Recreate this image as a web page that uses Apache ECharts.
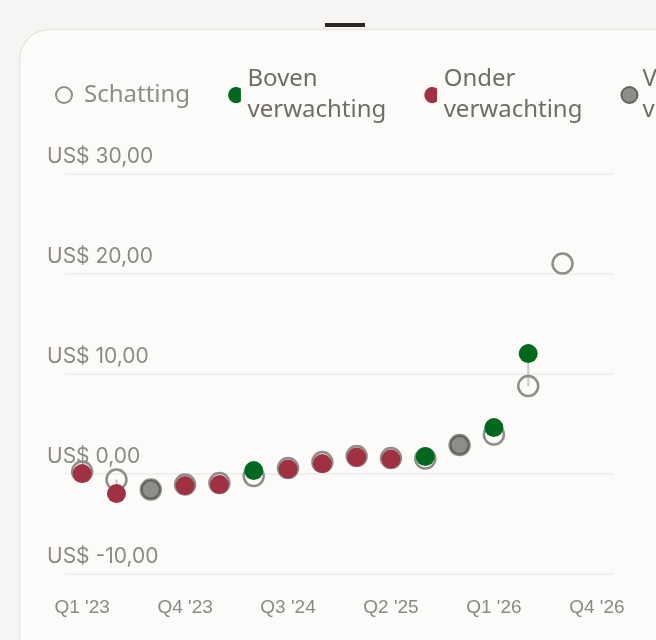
<!DOCTYPE html>
<html>
<head>
<meta charset="utf-8">
<script src="https://cdn.jsdelivr.net/npm/echarts@6/dist/echarts.min.js"></script>
<style>html,body{margin:0;padding:0;background:#f6f5f3;}#c{width:656px;height:640px;}</style>
</head>
<body>
<div id="c"></div>
<script>
const categories = ["Q1 '23","Q2 '23","Q3 '23","Q4 '23","Q1 '24","Q2 '24","Q3 '24","Q4 '24","Q1 '25","Q2 '25","Q3 '25","Q4 '25","Q1 '26","Q2 '26","Q3 '26","Q4 '26"];
const estimates = [0.2, -0.6, -1.6, -1.1, -0.95, -0.25, 0.55, 1.15, 1.75, 1.55, 1.5, 2.85, 3.9, 8.75, 21.0, null];
const actuals   = [0.0, -2.0, -1.6, -1.2, -1.1, 0.3, 0.45, 1.0, 1.65, 1.45, 1.7, 2.85, 4.6, 12.0, null, null];
const outcomes  = ['below','below','meets','below','below','above','below','below','below','below','above','meets','above','above',null,null];
const yTicks = [-10, 0, 10, 20, 30];
const legendNames = ['Schatting', 'Boven\nverwachting', 'Onder\nverwachting', 'Volgens\nverwachting'];

const pick = (k) => actuals.map((v, i) => outcomes[i] === k ? v : null);
const pairs = estimates.map((e, i) => [i, e, actuals[i]]).filter(p => p[1] != null && p[2] != null);

const halfDot = 'path://M12,2A7.5,7.5,0,1,0,12,14Z';

const chart = echarts.init(document.getElementById('c'), null, {renderer: 'canvas'});
const legendFont = '"Noto Sans", sans-serif';
chart.setOption({
  animation: false,
  backgroundColor: '#f6f5f3',
  graphic: [
    {type: 'rect', z: -10, silent: true, shape: {x: 19.5, y: 29.5, width: 720, height: 720, r: 30}, style: {fill: '#fcfbfa', stroke: '#e8e6e3', lineWidth: 1.5}},
    {type: 'rect', z: -9, silent: true, shape: {x: 325, y: 23, width: 40, height: 4}, style: {fill: '#2a2724'}}
  ],
  legend: {
    left: 55, top: 64, padding: 0, width: 2000, itemGap: 38, itemWidth: 16, itemHeight: 16,
    textStyle: {fontFamily: legendFont, fontSize: 24, lineHeight: 31, color: '#6f6d6a'},
    data: [
      {name: legendNames[0], icon: 'circle', textStyle: {color: '#8e8c89', padding: [0, 0, 0, 7]}},
      {name: legendNames[1], icon: halfDot},
      {name: legendNames[2], icon: halfDot},
      {name: legendNames[3], icon: 'circle'}
    ]
  },
  grid: {left: 65, right: 42, top: 173.6, bottom: 66.4},
  xAxis: {
    type: 'category', data: categories, boundaryGap: true,
    axisLine: {show: false}, axisTick: {show: false}, splitLine: {show: false},
    axisLabel: {interval: 2, margin: 25, fontFamily: '"Liberation Sans", Arial, sans-serif', fontSize: 19, color: '#8b8986'}
  },
  yAxis: {
    type: 'value', min: yTicks[0], max: yTicks[yTicks.length - 1], interval: 10,
    axisLine: {show: false}, axisTick: {show: false},
    splitLine: {lineStyle: {color: '#edebe8', width: 1.5}},
    axisLabel: {
      margin: 18, align: 'left', verticalAlign: 'bottom', lineHeight: 22, padding: [0, 0, 6, 0],
      fontFamily: 'Inter, sans-serif', fontSize: 21, color: '#8b8986',
      formatter: v => 'US$ ' + v.toFixed(2).replace('.', ',')
    }
  },
  series: [
    {
      type: 'custom', z: 1, silent: true, data: pairs,
      renderItem: (params, api) => {
        const a = api.coord([api.value(0), api.value(1)]);
        const b = api.coord([api.value(0), api.value(2)]);
        return {type: 'line', shape: {x1: a[0], y1: a[1], x2: b[0], y2: b[1]}, style: {stroke: '#c9c8c5', lineWidth: 2}};
      }
    },
    {
      name: legendNames[0], type: 'scatter', z: 2, data: estimates, symbol: 'circle', symbolSize: 20,
      itemStyle: {color: 'rgba(0,0,0,0)', borderColor: '#8e8d8a', borderWidth: 2.5, opacity: 1}
    },
    {
      name: legendNames[1], type: 'scatter', z: 3, data: pick('above'), symbolSize: 19,
      itemStyle: {color: '#00691e', opacity: 1}
    },
    {
      name: legendNames[2], type: 'scatter', z: 3, data: pick('below'), symbolSize: 19,
      itemStyle: {color: '#9f3142', opacity: 1}
    },
    {
      name: legendNames[3], type: 'scatter', z: 3, data: pick('meets'), symbolSize: 18,
      itemStyle: {color: '#8e8d8a', borderColor: '#63625f', borderWidth: 2, opacity: 1}
    }
  ]
});
</script>
</body>
</html>
